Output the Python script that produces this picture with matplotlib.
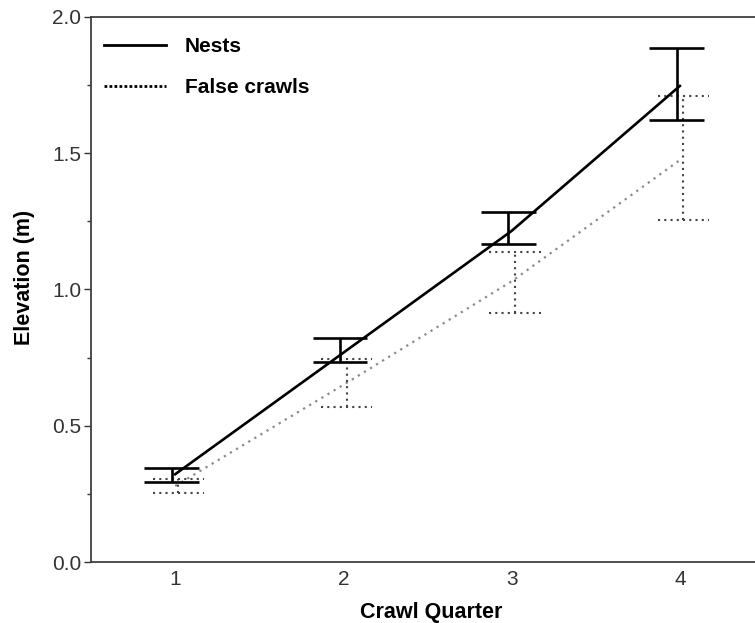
import matplotlib
matplotlib.use("Agg")
import matplotlib.pyplot as plt
import numpy as np
from matplotlib.lines import Line2D

quarters = [1, 2, 3, 4]
nest_mean = [0.322, 0.768, 1.215, 1.747]
nest_low = [0.293, 0.733, 1.166, 1.622]
nest_high = [0.344, 0.821, 1.283, 1.885]
false_mean = [0.279, 0.650, 1.030, 1.475]
false_low = [0.252, 0.568, 0.913, 1.255]
false_high = [0.305, 0.745, 1.137, 1.711]

plt.rcParams['font.family'] = ['Liberation Sans', 'DejaVu Sans']

fig = plt.figure(figsize=(7.55, 6.23), dpi=100)
W, H = 755, 623
left, right, top, bottom = 91, 764, 17, 562
ax = fig.add_axes([left / W, 1 - bottom / H, (right - left) / W, (bottom - top) / H])

x = np.array(quarters, dtype=float)
dodge = 0.02
ncap = 0.163
fcap = 0.152

# False crawls
ax.plot(x, false_mean, color='#8a8a8a', lw=1.6, ls=(0, (1, 2.2)), zorder=2)
fx = x + dodge
ax.vlines(fx, false_low, false_high, colors='#444444', lw=1.5, linestyles=(0, (1, 2)), zorder=2)
ax.hlines(false_low, fx - fcap, fx + fcap, colors='#444444', lw=1.5, linestyles=(0, (1, 2)), zorder=2)
ax.hlines(false_high, fx - fcap, fx + fcap, colors='#444444', lw=1.5, linestyles=(0, (1, 2)), zorder=2)

# Nests
ax.plot(x, nest_mean, color='black', lw=1.9, zorder=3)
nx = x - dodge
ax.vlines(nx, nest_low, nest_high, colors='black', lw=1.9, zorder=3)
ax.hlines(nest_low, nx - ncap, nx + ncap, colors='black', lw=1.9, zorder=3)
ax.hlines(nest_high, nx - ncap, nx + ncap, colors='black', lw=1.9, zorder=3)

ax.set_xlim(0.5, 4.5)
ax.set_ylim(0, 2.0)
ax.set_xticks(quarters)
ax.set_yticks([0, 0.5, 1.0, 1.5, 2.0])
ax.set_yticks([0.25, 0.75, 1.25, 1.75], minor=True)
ax.tick_params(axis='x', length=0, labelsize=15, colors='#333333', pad=6)
ax.tick_params(axis='y', which='major', length=5, width=1, labelsize=15, colors='#333333', pad=2)
ax.tick_params(axis='y', which='minor', length=3, width=1, colors='#333333')
for s in ['left', 'bottom', 'top']:
    ax.spines[s].set_color('#404040')
    ax.spines[s].set_linewidth(1.3)
ax.spines['right'].set_visible(False)
ax.yaxis.set_major_formatter(matplotlib.ticker.FormatStrFormatter('%.1f'))

ax.set_xlabel('Crawl Quarter', fontsize=15.5, fontweight='bold', labelpad=9)
ax.set_ylabel('Elevation (m)', fontsize=15.5, fontweight='bold')
ax.yaxis.set_label_coords(-0.083, 0.522)
ax.xaxis.label.set_position((0.506, 0))

handles = [Line2D([], [], color='black', lw=2),
           Line2D([], [], color='black', lw=2, ls=(0, (1, 0.8)))]
leg = ax.legend(handles, ['Nests', 'False crawls'], loc='upper left',
                bbox_to_anchor=(-0.009, 0.997), frameon=False, handlelength=3.0,
                handletextpad=0.9, labelspacing=1.05,
                prop={'weight': 'bold', 'size': 15})

fig.savefig('out.png', dpi=100)
